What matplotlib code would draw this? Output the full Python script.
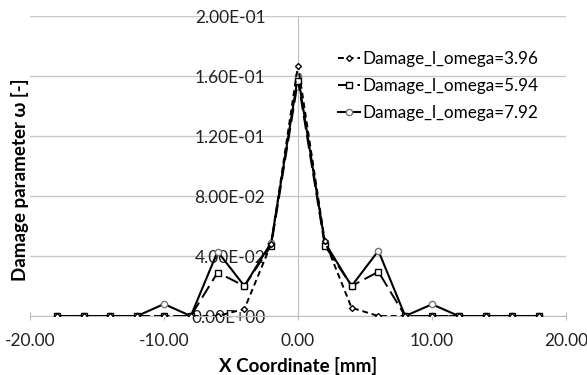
import matplotlib
import matplotlib.pyplot as plt

matplotlib.use("Agg")

plt.rcParams["font.family"] = ["Lato", "DejaVu Sans"]

# nodal positions along the specimen [mm]
x_coord = [-18, -16, -14, -12, -10, -8, -6, -4, -2, 0, 2, 4, 6, 8, 10, 12, 14, 16, 18]

# damage profiles for the three omega values
damage_396 = [0, 0, 0, 0, 0, 0, 0, 0.0047, 0.048, 0.167, 0.050, 0.0055, 0, 0, 0, 0, 0, 0, 0]
damage_594 = [0, 0, 0, 0, 0, 0, 0.029, 0.020, 0.047, 0.157, 0.047, 0.020, 0.0295, 0, 0, 0, 0, 0, 0]
damage_792 = [0, 0, 0, 0, 0.008, 0, 0.043, 0.020, 0.049, 0.160, 0.049, 0.020, 0.0435, 0, 0.0078, 0, 0, 0, 0]

labels = ["Damage_l_omega=3.96", "Damage_l_omega=5.94", "Damage_l_omega=7.92"]

x_ticks = [-20, -10, 0, 10, 20]
y_ticks = [0.0, 0.04, 0.08, 0.12, 0.16, 0.20]

fig = plt.figure(figsize=(5.87, 3.75), dpi=100)
ax = fig.add_axes([0.0511, 0.1573, 0.9131, 0.80])

ax.plot(x_coord, damage_396, color="black", linewidth=1.4, linestyle=(0, (3, 2)),
        marker="D", markersize=3, markerfacecolor="white", markeredgecolor="black",
        label=labels[0], zorder=4)
ax.plot(x_coord, damage_594, color="black", linewidth=1.4, linestyle=(0, (7, 3)),
        marker="s", markersize=5, markerfacecolor="white", markeredgecolor="black",
        label=labels[1], zorder=3)
ax.plot(x_coord, damage_792, color="black", linewidth=1.5, linestyle="-",
        marker="o", markersize=4.5, markerfacecolor="white", markeredgecolor="#777777",
        label=labels[2], zorder=2)

ax.set_xlim(-20, 20)
ax.set_ylim(0, 0.2)
ax.set_xticks(x_ticks)
ax.set_yticks(y_ticks)
ax.set_xticklabels([f"{v:.2f}" for v in x_ticks])
ax.set_yticklabels([f"{v:.2E}" for v in y_ticks])

# value axis crosses at x = 0
ax.spines["left"].set_position(("data", 0))
ax.spines["left"].set_color("#bfbfbf")
ax.spines["bottom"].set_color("#bfbfbf")
ax.spines["top"].set_visible(False)
ax.spines["right"].set_visible(False)

ax.grid(axis="y", color="#c8c8c8", linewidth=1)
ax.set_axisbelow(True)

ax.tick_params(axis="x", direction="inout", length=6, color="#bfbfbf", labelsize=12.5,
               pad=9, labelcolor="#222222")
ax.tick_params(axis="y", length=0, labelsize=12.5, pad=23.5, labelcolor="#222222")

ax.set_xlabel("X Coordinate [mm]", fontsize=13.5, fontweight="bold", labelpad=6)
ax.set_ylabel("Damage parameter ω [-]", fontsize=13.5, fontweight="bold")
ax.yaxis.set_label_coords(-0.002, 136 / 300)

ax.legend(loc="upper left", bbox_to_anchor=(0.562, 0.905), frameon=False, fontsize=12.3,
          handlelength=1.3, handletextpad=0.1, labelspacing=0.62, borderaxespad=0)

fig.savefig("out.png", dpi=100)
